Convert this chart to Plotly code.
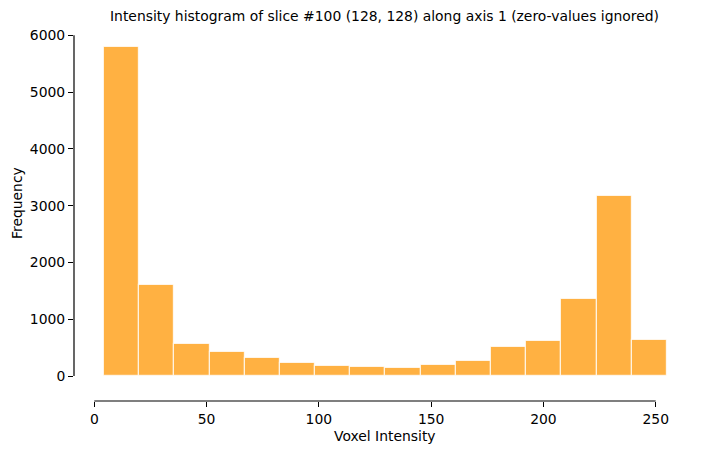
import plotly.graph_objects as go

# Data
bin_start = 4.3
bin_end = 255
counts = [5800, 1603, 564, 423, 317, 229, 176, 158, 141, 194, 259, 505, 611, 1351, 3165, 629]
x_ticks = [0, 50, 100, 150, 200, 250]
y_ticks = [0, 1000, 2000, 3000, 4000, 5000, 6000]

n = len(counts)
w = (bin_end - bin_start) / n
centers = [bin_start + w * (i + 0.5) for i in range(n)]

OFF = 8  # default page body margin
W, H = 704 - 2 * OFF, 454 - 2 * OFF
# target plot area in page pixels: x 74..695, y 30..401
px0, px1, py0, py1 = 74, 695, 30, 401
L, T = px0 - OFF, py0 - OFF
R, B = W - (px1 - OFF), H - (py1 - OFF)
xr = [-9.04, 267.5]
yr = [-440.3, 6094]


def pxx(page_x):
    return (page_x - px0) / (px1 - px0)


def pyy(page_y):
    return (py1 - page_y) / (py1 - py0)


fig = go.Figure()
fig.add_trace(go.Bar(
    x=centers, y=counts, width=[w] * n,
    marker=dict(color="#FFB142", line=dict(color="rgba(255,255,255,0.75)", width=1.2)),
    showlegend=False,
))

font = dict(family="DejaVu Sans", size=13.9, color="black")
fig.update_layout(
    width=W, height=H,
    margin=dict(l=L, r=R, t=T, b=B, pad=0),
    paper_bgcolor="white", plot_bgcolor="white",
    font=font,
    bargap=0,
    xaxis=dict(range=xr, tickvals=x_ticks, ticks="outside", ticklen=5, tickwidth=1,
               tickcolor="black", showgrid=False, zeroline=False, showline=False,
               tickfont=font),
    yaxis=dict(range=yr, tickvals=y_ticks, ticks="outside", ticklen=5, tickwidth=1,
               tickcolor="black", showgrid=False, zeroline=False, showline=False,
               tickfont=font),
    shapes=[
        dict(type="line", xref="paper", yref="y", x0=0, x1=0, y0=y_ticks[0], y1=y_ticks[-1],
             line=dict(color="black", width=1.2)),
        dict(type="line", xref="x", yref="paper", x0=x_ticks[0], x1=x_ticks[-1], y0=0, y1=0,
             line=dict(color="black", width=1.2)),
    ],
    annotations=[
        dict(text="Intensity histogram of slice #100 (128, 128) along axis 1 (zero-values ignored)",
             xref="paper", yref="paper", x=pxx(384), y=pyy(16),
             xanchor="center", yanchor="middle", showarrow=False, font=font),
        dict(text="Voxel Intensity", xref="paper", yref="paper", x=pxx(384.5),
             y=pyy(436), xanchor="center", yanchor="middle",
             showarrow=False, font=font),
        dict(text="Frequency", xref="paper", yref="paper", x=pxx(17),
             y=pyy(203), xanchor="center", yanchor="middle",
             textangle=-90, showarrow=False, font=font),
    ],
)

fig.write_html("out.html")
